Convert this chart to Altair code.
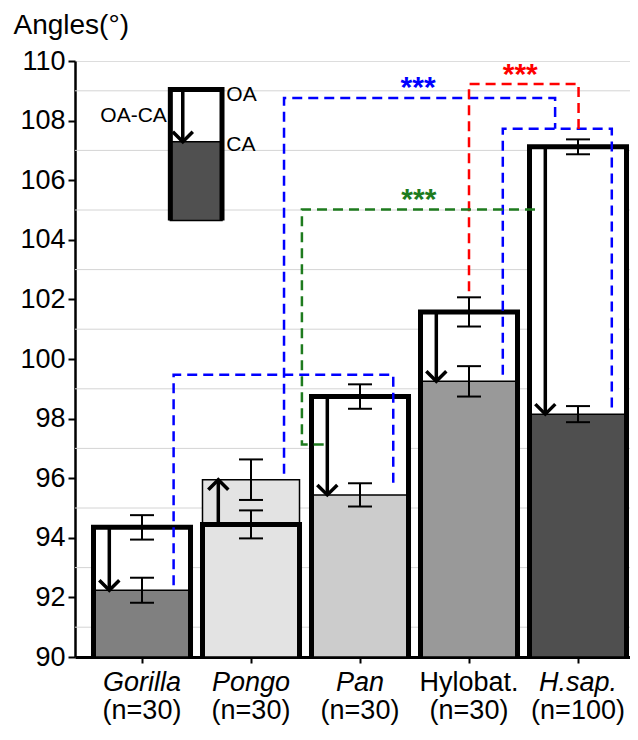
import altair as alt
import pandas as pd

# ---------------- data ----------------
species = ["Gorilla", "Pongo", "Pan", "Hylobat.", "H.sap."]
sample_sizes = ["(n=30)", "(n=30)", "(n=30)", "(n=30)", "(n=100)"]
italic_name = [True, True, True, False, True]
oa_mean = [94.35, 94.45, 98.74, 101.58, 107.12]
oa_err = [0.41, 0.47, 0.41, 0.49, 0.25]
ca_mean = [92.24, 95.95, 95.44, 99.25, 98.15]
ca_err = [0.42, 0.68, 0.39, 0.51, 0.27]
ca_fill = ["#808080", "#e3e3e3", "#cccccc", "#999999", "#4f4f4f"]

y_ticks = [90, 92, 94, 96, 98, 100, 102, 104, 106, 108, 110]
grid_values = [91, 93, 95, 97, 99, 101, 103, 105, 107, 109]

# significance brackets (x in category units, y in degrees)
bracket_names = ["blue_low", "blue_hs", "blue_top", "red", "green"]
bracket_colors = ["#0000ff", "#0000ff", "#0000ff", "#ff0000", "#1e7b1e"]
bracket_x = [
    [0.29, 0.29, 2.305, 2.305],
    [3.31, 3.31, 4.31, 4.31],
    [1.303, 1.303, 3.79, 3.79],
    [3.0, 3.0, 4.005, 4.005],
    [1.667, 1.467, 1.467, 3.66],
]
bracket_y = [
    [92.41, 99.47, 99.47, 95.69],
    [99.47, 107.73, 107.73, 98.36],
    [96.15, 108.76, 108.76, 107.73],
    [102.27, 109.23, 109.23, 107.56],
    [97.13, 97.13, 105.02, 105.02],
]
star_text = ["***", "***", "***"]
star_x = [2.533, 3.47, 2.54]
star_y = [109.13, 109.57, 105.38]
star_color = ["#0000ff", "#ff0000", "#1e7b1e"]

# inset legend
legend_x = [0.26, 0.734]
legend_top = 109.04
legend_ca = 107.29
legend_bottom = 104.65
legend_arrow_x = 0.374
legend_labels = ["OA", "CA", "OA-CA"]
legend_label_x = [0.774, 0.774, 0.228]
legend_label_y = [108.86, 107.19, 108.17]
legend_label_align = ["left", "left", "right"]

# ---------------- styling constants ----------------
FONT = "Liberation Sans"
HW = 0.445      # half bar width (category units)
ARROW_DX = -0.30
CAP = 0.11
DOWN = "M-1,-1L0,0L1,-1"
UP = "M-1,1L0,0L1,1"
LABEL_Y1 = 88.86
LABEL_Y2 = 87.92

xscale = alt.Scale(domain=[-0.6147, 4.477], nice=False, zero=False)
yscale = alt.Scale(domain=[90, 110], nice=False, zero=False)
xaxis = alt.Axis(values=[0, 1, 2, 3, 4], labels=False, grid=False, tickSize=6,
                 tickWidth=2, domainWidth=3, domainColor="black", tickColor="black",
                 title="")
yaxis = alt.Axis(values=y_ticks, grid=False, tickSize=7, tickWidth=2, domainWidth=2.5,
                 domainColor="black", tickColor="black", labelFontSize=27,
                 labelFont=FONT, labelColor="black", labelPadding=3,
                 title="Angles(°)", titleAngle=0, titleAlign="left",
                 titleBaseline="alphabetic", titleX=-62, titleY=-28,
                 titleFontSize=28, titleFontWeight="normal", titleFont=FONT,
                 titleColor="black")


def X(f):
    return alt.X(f, type="quantitative", scale=xscale, axis=xaxis)


def Y(f):
    return alt.Y(f, type="quantitative", scale=yscale, axis=yaxis)


# ---------------- tables ----------------
bars = pd.DataFrame({
    "i": list(range(5)), "species": species, "oa": oa_mean, "ca": ca_mean,
    "fill": ca_fill,
})
bars["xl"] = bars["i"] - HW
bars["xr"] = bars["i"] + HW
bars["base"] = 90.0

outline_rows = []
for k, r in bars.iterrows():
    pts = [(r.xl, 90.0), (r.xl, r.oa), (r.xr, r.oa), (r.xr, 90.0)]
    for o, (px, py) in enumerate(pts):
        outline_rows.append({"g": r.species, "o": o, "x": px, "y": py})
outline = pd.DataFrame(outline_rows)

err_rows = []
for k in range(5):
    for m, e in ((oa_mean[k], oa_err[k]), (ca_mean[k], ca_err[k])):
        err_rows.append({"x": k, "xl": k - CAP, "xr": k + CAP, "lo": m - e, "hi": m + e})
errs = pd.DataFrame(err_rows)

arrows = pd.DataFrame({
    "x": [k + ARROW_DX for k in range(5)], "oa": oa_mean, "ca": ca_mean,
    "shape": [DOWN if c < o else UP for o, c in zip(oa_mean, ca_mean)],
})

grid = pd.DataFrame({"y": grid_values})

br_rows = []
for name, col, xs, ys in zip(bracket_names, bracket_colors, bracket_x, bracket_y):
    for o, (px, py) in enumerate(zip(xs, ys)):
        br_rows.append({"g": name, "o": o, "x": px, "y": py, "c": col})
brackets = pd.DataFrame(br_rows)

stars = pd.DataFrame({"t": star_text, "x": star_x, "y": star_y, "c": star_color})

labels = pd.DataFrame({"x": list(range(5)), "name": species, "n": sample_sizes,
                       "it": italic_name, "y1": LABEL_Y1, "y2": LABEL_Y2})

leg_fill = pd.DataFrame({"xl": [legend_x[0]], "xr": [legend_x[1]],
                         "lo": [legend_bottom], "hi": [legend_ca]})
leg_outline = pd.DataFrame({
    "o": [0, 1, 2, 3],
    "x": [legend_x[0], legend_x[0], legend_x[1], legend_x[1]],
    "y": [legend_bottom, legend_top, legend_top, legend_bottom],
})
leg_arrow = pd.DataFrame({"x": [legend_arrow_x], "oa": [legend_top], "ca": [legend_ca],
                          "shape": [DOWN]})
leg_text = pd.DataFrame({"t": legend_labels, "x": legend_label_x, "y": legend_label_y,
                         "a": legend_label_align})

# ---------------- layers ----------------
grid_layer = alt.Chart(grid).mark_rule(color="#d4d4d4", strokeWidth=1).encode(y=Y("y"))

oa_white = alt.Chart(bars).mark_rect(fill="white").encode(
    x=X("xl"), x2="xr", y=Y("base"), y2="oa")

ca_bar = alt.Chart(bars).mark_rect(stroke="black", strokeWidth=1.5).encode(
    x=X("xl"), x2="xr", y=Y("base"), y2="ca",
    fill=alt.Fill("fill:N", scale=None))

oa_outline = alt.Chart(outline).mark_line(
    color="black", strokeWidth=5, strokeJoin="miter", strokeCap="butt").encode(
    x=X("x"), y=Y("y"), detail="g:N", order="o:Q")

err_v = alt.Chart(errs).mark_rule(color="black", strokeWidth=2).encode(
    x=X("x"), y=Y("lo"), y2="hi")
err_lo = alt.Chart(errs).mark_rule(color="black", strokeWidth=2).encode(
    x=X("xl"), x2="xr", y=Y("lo"))
err_hi = alt.Chart(errs).mark_rule(color="black", strokeWidth=2).encode(
    x=X("xl"), x2="xr", y=Y("hi"))

arrow_shaft = alt.Chart(arrows).mark_rule(color="black", strokeWidth=3.5).encode(
    x=X("x"), y=Y("oa"), y2="ca")
arrow_head = alt.Chart(arrows).mark_point(
    filled=False, color="black", strokeWidth=3.5, size=400, opacity=1,
    strokeJoin="miter").encode(
    x=X("x"), y=Y("ca"), shape=alt.Shape("shape:N", scale=None))

bracket_layer = alt.Chart(brackets).mark_line(
    strokeWidth=2.5, strokeDash=[10, 6], strokeCap="butt").encode(
    x=X("x"), y=Y("y"), detail="g:N", order="o:Q",
    color=alt.Color("c:N", scale=None))

star_layer = alt.Chart(stars).mark_text(
    font=FONT, fontSize=30, fontWeight="bold", baseline="middle", dy=1).encode(
    x=X("x"), y=Y("y"), text="t:N", color=alt.Color("c:N", scale=None))

name_it = alt.Chart(labels).transform_filter("datum.it").mark_text(
    font=FONT, fontSize=27, fontStyle="italic", baseline="alphabetic",
    color="black").encode(x=X("x"), y=Y("y1"), text="name:N")
name_rm = alt.Chart(labels).transform_filter("!datum.it").mark_text(
    font=FONT, fontSize=27, baseline="alphabetic", color="black").encode(
    x=X("x"), y=Y("y1"), text="name:N")
n_text = alt.Chart(labels).mark_text(
    font=FONT, fontSize=27, baseline="alphabetic", color="black").encode(
    x=X("x"), y=Y("y2"), text="n:N")

leg_fill_layer = alt.Chart(leg_fill).mark_rect(
    fill="#505050", stroke="black", strokeWidth=1.5).encode(
    x=X("xl"), x2="xr", y=Y("lo"), y2="hi")
leg_outline_layer = alt.Chart(leg_outline).mark_line(
    color="black", strokeWidth=5, strokeJoin="miter", strokeCap="butt").encode(
    x=X("x"), y=Y("y"), order="o:Q")
leg_shaft = alt.Chart(leg_arrow).mark_rule(color="black", strokeWidth=3.5).encode(
    x=X("x"), y=Y("oa"), y2="ca")
leg_head = alt.Chart(leg_arrow).mark_point(
    filled=False, color="black", strokeWidth=3.5, size=400, opacity=1,
    strokeJoin="miter").encode(
    x=X("x"), y=Y("ca"), shape=alt.Shape("shape:N", scale=None))
leg_text_left = alt.Chart(leg_text).transform_filter("datum.a == 'left'").mark_text(
    font=FONT, fontSize=21, align="left", baseline="middle", color="black").encode(
    x=X("x"), y=Y("y"), text="t:N")
leg_text_right = alt.Chart(leg_text).transform_filter("datum.a == 'right'").mark_text(
    font=FONT, fontSize=21, align="right", baseline="middle", color="black").encode(
    x=X("x"), y=Y("y"), text="t:N")

chart = alt.layer(
    grid_layer, oa_white, ca_bar, oa_outline, err_v, err_lo, err_hi,
    arrow_shaft, arrow_head, bracket_layer, star_layer,
    name_it, name_rm, n_text,
    leg_fill_layer, leg_outline_layer, leg_shaft, leg_head,
    leg_text_left, leg_text_right,
).properties(
    width=555, height=596,
    autosize=alt.AutoSizeParams(type="none"),
    padding={"left": 67, "top": 53, "right": 0, "bottom": 69},
).configure_view(stroke="transparent").configure(background="white")

chart.save("out.html", embed_options={"renderer": "svg", "actions": False})
